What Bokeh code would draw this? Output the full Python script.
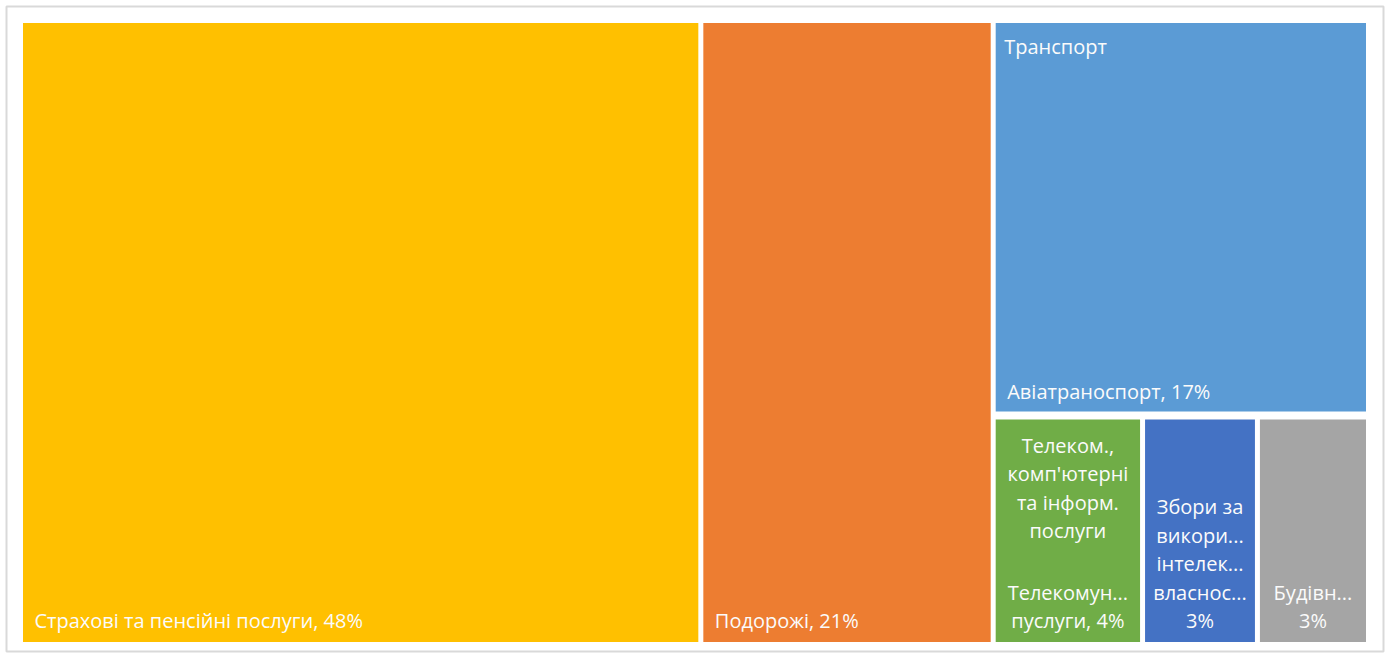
from bokeh.plotting import figure
from bokeh.models import Range1d, ColumnDataSource
from bokeh.core.properties import value
from bokeh.embed import file_html
from bokeh.resources import INLINE

# ---- data ----
categories = ["Страхові та пенсійні послуги", "Подорожі", "Авіатраноспорт",
              "Телекомун...\nпуслуги", "Збори за\nвикори...\nінтелек...\nвласнос...", "Будівн..."]
groups = ["", "", "Транспорт", "Телеком.,\nкомп'ютерні\nта інформ.\nпослуги", "", ""]
values = [48.4, 20.8, 16.9, 3.9, 3.0, 2.9]
pct_labels = ["48%", "21%", "17%", "4%", "3%", "3%"]
colors = ["#FFC000", "#ED7D31", "#5B9BD5", "#70AD47", "#4472C4", "#A5A5A5"]

# ---- geometry (pixels) ----
W, H = 1386, 654
FB_L, FB_R, FB_T, FB_B = 6, 3, 6, 3          # frame (outer border) placement
FW = W - FB_L - FB_R
FH = H - FB_T - FB_B
PAD_L, PAD_R, PAD_T, PAD_B = 14, 15, 14, 7    # treemap inside the border
TW = FW - PAD_L - PAD_R
TH = FH - PAD_T - PAD_B
FONT = 20
LH = 28.5
GAP = 2.5      # half gap between tiles, px
GGAP = 4.0     # half gap between the top group and the bottom row, px

# ---- layout ----
total = sum(values)
rects = []
x = 0.0
for v in values[:2]:
    w = v / total
    rects.append((x, x + w, 0.0, 1.0))
    x += w
rest = values[2:]
rest_total = sum(rest)
h_top = rest[0] / rest_total
rects.append((x, 1.0, 1.0 - h_top, 1.0))
bx = x
row_total = sum(rest[1:])
for v in rest[1:]:
    w = (1.0 - x) * v / row_total
    rects.append((bx, bx + w, 0.0, 1.0 - h_top))
    bx += w

dx, dy = 1.0 / TW, 1.0 / TH
vis = []
for i, (l, r, b, t) in enumerate(rects):
    bi = GGAP if i == 2 else GAP
    ti = GGAP if i >= 3 else GAP
    vis.append((l + GAP * dx, r - GAP * dx, b + bi * dy, t - ti * dy))

p = figure(width=W, height=H, output_backend="svg", toolbar_location=None,
           x_range=Range1d(-PAD_L / TW, 1 + PAD_R / TW),
           y_range=Range1d(-PAD_B / TH, 1 + PAD_T / TH),
           min_border_left=FB_L, min_border_right=FB_R,
           min_border_top=FB_T, min_border_bottom=FB_B)
p.axis.visible = False
p.grid.visible = False
p.outline_line_color = "#d9d9d9"
p.outline_line_width = 2
p.background_fill_color = "white"
p.border_fill_color = "white"

src = ColumnDataSource(dict(left=[r[0] for r in vis], right=[r[1] for r in vis],
                            bottom=[r[2] for r in vis], top=[r[3] for r in vis],
                            color=colors))
p.quad(left="left", right="right", bottom="bottom", top="top", source=src,
       fill_color="color", line_color=None)

# ---- labels ----
tx, ty, tt, tox, toy, align = [], [], [], [], [], []
for i, (l, r, b, t) in enumerate(rects):
    w_px = (r - l) * TW
    narrow = w_px < 200
    leaf = categories[i].split("\n")
    if narrow:
        if i == 3:
            leaf[-1] = leaf[-1] + ", " + pct_labels[i]
        else:
            leaf = leaf + [pct_labels[i]]
    else:
        leaf[-1] = leaf[-1] + ", " + pct_labels[i]
    n = len(leaf)
    for k, line in enumerate(leaf):
        if narrow:
            tx.append((l + r) / 2); tox.append(0); align.append("center")
        else:
            tx.append(l); tox.append(14); align.append("left")
        ty.append(b); toy.append(-24 - (n - 1 - k) * LH); tt.append(line)
    if groups[i]:
        g = groups[i].split("\n")
        for k, line in enumerate(g):
            if narrow:
                tx.append((l + r) / 2); tox.append(0); align.append("center")
                ty.append(t); toy.append(30 + k * LH)
            else:
                tx.append(l); tox.append(11); align.append("left")
                ty.append(t); toy.append(26 + k * LH)
            tt.append(line)

tsrc = ColumnDataSource(dict(x=tx, y=ty, text=tt, xo=tox, yo=toy, align=align))
p.text(x="x", y="y", text="text", x_offset="xo", y_offset="yo", text_align="align",
       source=tsrc, text_baseline="middle", text_color="#fbfbfb",
       text_font=value("Open Sans"), text_font_size=f"{FONT}px")

open("out.html", "w").write(file_html(p, INLINE))
